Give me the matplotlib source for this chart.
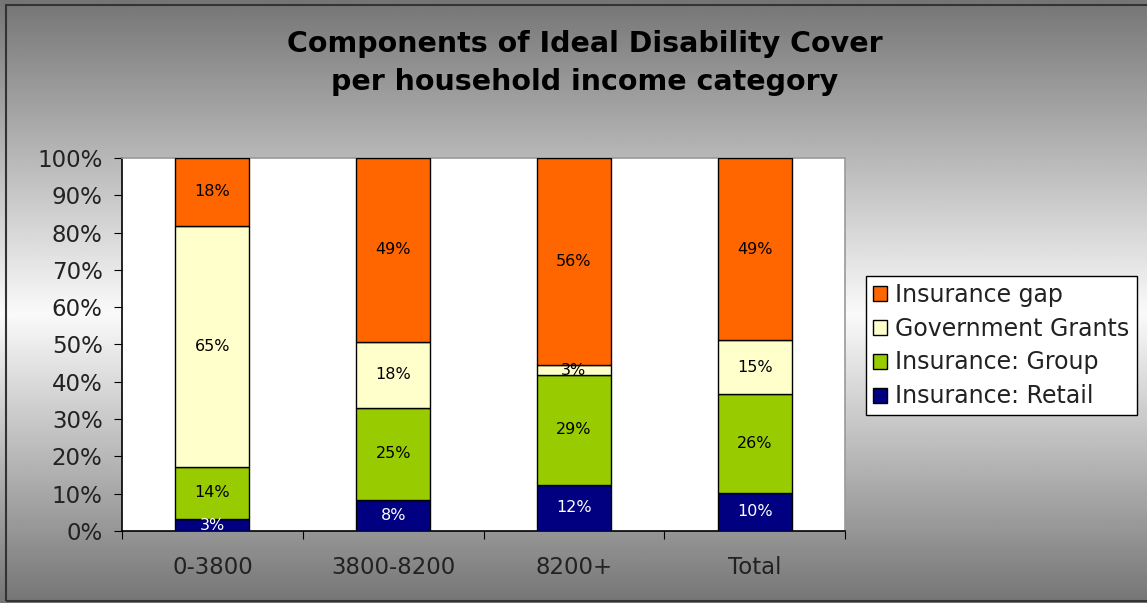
import numpy as np
import matplotlib
matplotlib.use("Agg")
import matplotlib.pyplot as plt
from matplotlib.patches import Rectangle

# data (percent of ideal cover)
categories = ["0-3800", "3800-8200", "8200+", "Total"]
series_names = ["Insurance: Retail", "Insurance: Group", "Government Grants", "Insurance gap"]
retail = [3.2, 8.3, 12.4, 10.2]
group = [14.0, 24.7, 29.4, 26.4]
grants = [64.6, 17.8, 2.6, 14.6]
gap = [18.2, 49.2, 55.6, 48.8]
colors = ["#000080", "#99CC00", "#FFFFCC", "#FF6600"]
label_colors = ["white", "black", "black", "black"]

fig = plt.figure(figsize=(11.47, 6.03), dpi=100)

# gray gradient background, light in the middle, darker top and bottom
bg = fig.add_axes([0, 0, 1, 1], zorder=-2)
yy = np.linspace(0, 1, 300)
shade = np.interp(yy, [0.0, 0.52, 1.0], [0.46, 0.98, 0.46])
bg.imshow(shade[:, None], cmap="gray", vmin=0, vmax=1, aspect="auto",
          extent=[0, 1, 0, 1])
bg.set_xlim(0, 1)
bg.set_ylim(0, 1)
bg.axis("off")
fig.patches.append(Rectangle((0.005, 0.004), 1.1, 0.988, transform=fig.transFigure,
                             fill=False, edgecolor="#333333", lw=1.5))

ax = fig.add_axes([0.1064, 0.1194, 0.6303, 0.6186])
ax.set_facecolor("white")

x = np.arange(len(categories))
width = 0.41
bottom = np.zeros(len(categories))
for name, vals, col, tcol in zip(series_names, [retail, group, grants, gap], colors, label_colors):
    vals = np.array(vals, dtype=float)
    ax.bar(x, vals, width, bottom=bottom, color=col, edgecolor="black", linewidth=1.0,
           label=name, zorder=3)
    for xi, b, v in zip(x, bottom, vals):
        ax.text(xi, b + v / 2, "%.0f%%" % v, ha="center", va="center", fontsize=11.5,
                color=tcol, zorder=4)
    bottom += vals

ax.set_xlim(-0.5, len(categories) - 0.5)
ax.set_ylim(0, 100)
ax.set_yticks(np.arange(0, 101, 10))
ax.set_yticklabels(["%d%%" % v for v in range(0, 101, 10)], fontsize=16.5, color="#222222")
ax.set_xticks(np.arange(-0.5, len(categories), 1.0))
ax.set_xticklabels([])
ax.set_xticks(x, minor=True)
ax.set_xticklabels(categories, minor=True, fontsize=16.5, color="#222222")
ax.tick_params(axis="x", which="minor", length=0, pad=18)
ax.tick_params(axis="x", which="major", length=6, direction="out")
ax.tick_params(axis="y", length=6, direction="out", pad=8)
for s in ["top", "right"]:
    ax.spines[s].set_color("#999999")
    ax.spines[s].set_linewidth(1.2)
ax.spines["left"].set_linewidth(1.2)
ax.spines["bottom"].set_linewidth(1.2)

fig.text(0.51, 0.895, "Components of Ideal Disability Cover\nper household income category",
         ha="center", va="center", fontsize=20.5, fontweight="bold", linespacing=1.45)

handles, labels = ax.get_legend_handles_labels()
leg = fig.legend(handles[::-1], labels[::-1], loc="upper left",
                 bbox_to_anchor=(0.755, 0.543), fontsize=17, frameon=True,
                 fancybox=False, edgecolor="black", framealpha=1,
                 handlelength=0.6, handleheight=0.6, handletextpad=0.35,
                 labelspacing=0.42, borderpad=0.3, borderaxespad=0)
leg.get_frame().set_linewidth(1.0)
for t in leg.get_texts():
    t.set_color("#222222")

fig.savefig("out.png", dpi=100)
